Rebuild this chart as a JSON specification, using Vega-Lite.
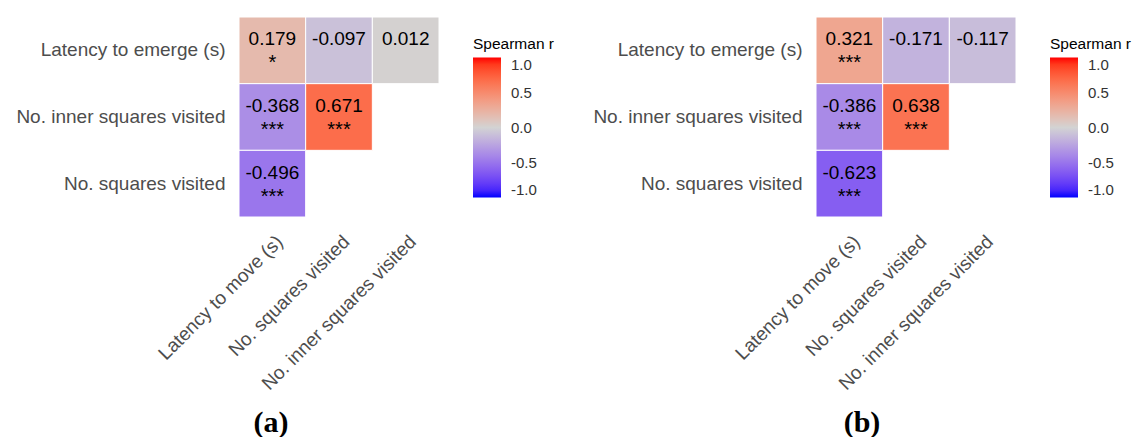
{
  "$schema": "https://vega.github.io/schema/vega-lite/v6.json",
  "background": "white",
  "padding": {"left": 15, "top": 16, "right": 0, "bottom": 0},
  "config": {
    "view": {"stroke": null},
    "font": "Liberation Sans",
    "concat": {"spacing": 18},
    "locale": {"number": {"decimal": ".", "thousands": ",", "grouping": [3], "currency": ["$", ""], "minus": "-"}}
  },
  "datasets": {
    "a": [
      {"col": "Latency to move (s)", "row": "Latency to emerge (s)", "r": 0.179, "stars": "*"},
      {"col": "No. squares visited", "row": "Latency to emerge (s)", "r": -0.097, "stars": ""},
      {"col": "No. inner squares visited", "row": "Latency to emerge (s)", "r": 0.012, "stars": ""},
      {"col": "Latency to move (s)", "row": "No. inner squares visited", "r": -0.368, "stars": "***"},
      {"col": "No. squares visited", "row": "No. inner squares visited", "r": 0.671, "stars": "***"},
      {"col": "Latency to move (s)", "row": "No. squares visited", "r": -0.496, "stars": "***"}
    ],
    "b": [
      {"col": "Latency to move (s)", "row": "Latency to emerge (s)", "r": 0.321, "stars": "***"},
      {"col": "No. squares visited", "row": "Latency to emerge (s)", "r": -0.171, "stars": ""},
      {"col": "No. inner squares visited", "row": "Latency to emerge (s)", "r": -0.117, "stars": ""},
      {"col": "Latency to move (s)", "row": "No. inner squares visited", "r": -0.386, "stars": "***"},
      {"col": "No. squares visited", "row": "No. inner squares visited", "r": 0.638, "stars": "***"},
      {"col": "Latency to move (s)", "row": "No. squares visited", "r": -0.623, "stars": "***"}
    ]
  },
  "resolve": {"scale": {"color": "independent"}, "legend": {"color": "independent"}},
  "hconcat": [
    {
      "width": 200, "height": 200,
      "title": {"text": "(a)", "orient": "bottom", "font": "Liberation Serif", "fontSize": 30, "fontWeight": "bold", "dx": -68, "offset": 15, "color": "black"},
      "data": {"name": "a"},
      "encoding": {
        "x": {"field": "col", "type": "nominal", "title": null,
          "scale": {"domain": ["Latency to move (s)", "No. squares visited", "No. inner squares visited"], "paddingInner": 0, "paddingOuter": 0},
          "axis": {"labelAngle": -45, "labelAlign": "right", "labelBaseline": "top", "labelPadding": 15, "labelOffset": 1, "labelFontSize": 19, "labelColor": "#4d4d4d", "labelLimit": 400, "domain": false, "ticks": false, "grid": false}},
        "y": {"field": "row", "type": "nominal", "title": null,
          "scale": {"domain": ["Latency to emerge (s)", "No. inner squares visited", "No. squares visited"], "paddingInner": 0, "paddingOuter": 0},
          "axis": {"labelPadding": 14, "labelFontSize": 19, "labelColor": "#4d4d4d", "labelLimit": 400, "domain": false, "ticks": false, "grid": false}}
      },
      "layer": [
        {"mark": {"type": "rect", "stroke": "white", "strokeWidth": 1},
         "encoding": {"color": {"field": "r", "type": "quantitative",
           "scale": {"domain": [-1, 0, 1], "range": ["#0000ff", "#d3d3d3", "#ff0000"], "interpolate": "lab"},
           "legend": {"title": "Spearman r", "titleFontSize": 15.5, "titleFontWeight": "normal", "titleColor": "black", "titlePadding": 5,
             "labelFontSize": 15, "labelColor": "#333333", "labelOffset": 10, "gradientLength": 140, "gradientThickness": 28,
             "values": [-1, -0.5, 0, 0.5, 1], "format": ".1f", "offset": 14, "padding": 20}}}},
        {"mark": {"type": "text", "dy": -11, "fontSize": 19, "color": "black"},
         "encoding": {"text": {"field": "r", "type": "quantitative", "format": ".3f"}}},
        {"mark": {"type": "text", "dy": 13, "fontSize": 20, "color": "black"},
         "encoding": {"text": {"field": "stars", "type": "nominal"}}}
      ]
    },
    {
      "width": 200, "height": 200,
      "title": {"text": "(b)", "orient": "bottom", "font": "Liberation Serif", "fontSize": 30, "fontWeight": "bold", "dx": -54, "offset": 15, "color": "black"},
      "data": {"name": "b"},
      "encoding": {
        "x": {"field": "col", "type": "nominal", "title": null,
          "scale": {"domain": ["Latency to move (s)", "No. squares visited", "No. inner squares visited"], "paddingInner": 0, "paddingOuter": 0},
          "axis": {"labelAngle": -45, "labelAlign": "right", "labelBaseline": "top", "labelPadding": 15, "labelOffset": 1, "labelFontSize": 19, "labelColor": "#4d4d4d", "labelLimit": 400, "domain": false, "ticks": false, "grid": false}},
        "y": {"field": "row", "type": "nominal", "title": null,
          "scale": {"domain": ["Latency to emerge (s)", "No. inner squares visited", "No. squares visited"], "paddingInner": 0, "paddingOuter": 0},
          "axis": {"labelPadding": 14, "labelFontSize": 19, "labelColor": "#4d4d4d", "labelLimit": 400, "domain": false, "ticks": false, "grid": false}}
      },
      "layer": [
        {"mark": {"type": "rect", "stroke": "white", "strokeWidth": 1},
         "encoding": {"color": {"field": "r", "type": "quantitative",
           "scale": {"domain": [-1, 0, 1], "range": ["#0000ff", "#d3d3d3", "#ff0000"], "interpolate": "lab"},
           "legend": {"title": "Spearman r", "titleFontSize": 15.5, "titleFontWeight": "normal", "titleColor": "black", "titlePadding": 5,
             "labelFontSize": 15, "labelColor": "#333333", "labelOffset": 10, "gradientLength": 140, "gradientThickness": 28,
             "values": [-1, -0.5, 0, 0.5, 1], "format": ".1f", "offset": 14, "padding": 20}}}},
        {"mark": {"type": "text", "dy": -11, "fontSize": 19, "color": "black"},
         "encoding": {"text": {"field": "r", "type": "quantitative", "format": ".3f"}}},
        {"mark": {"type": "text", "dy": 13, "fontSize": 20, "color": "black"},
         "encoding": {"text": {"field": "stars", "type": "nominal"}}}
      ]
    }
  ]
}
